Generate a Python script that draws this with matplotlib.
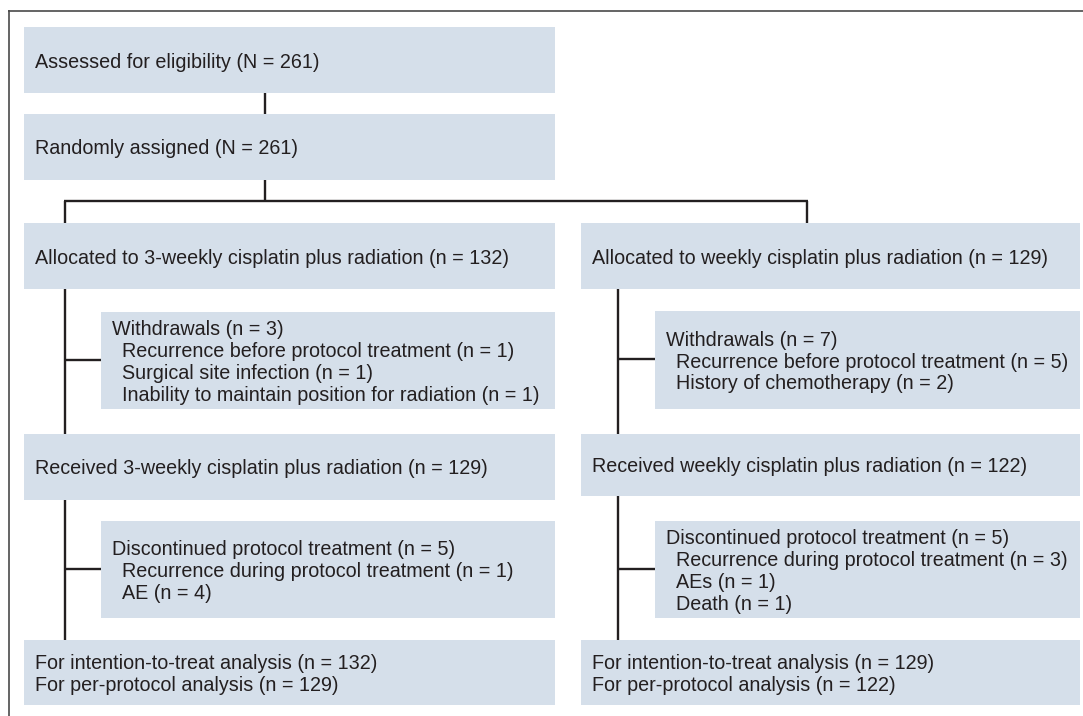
import matplotlib
matplotlib.use("Agg")
import matplotlib.pyplot as plt
from matplotlib.patches import Rectangle

# ---------------- data (texts / counts) ----------------
assessed_text = ["Assessed for eligibility (N = 261)"]
randomized_text = ["Randomly assigned (N = 261)"]
alloc_3w = ["Allocated to 3-weekly cisplatin plus radiation (n = 132)"]
alloc_w = ["Allocated to weekly cisplatin plus radiation (n = 129)"]
withdraw_3w = ["Withdrawals (n = 3)",
               "Recurrence before protocol treatment (n = 1)",
               "Surgical site infection (n = 1)",
               "Inability to maintain position for radiation (n = 1)"]
withdraw_w = ["Withdrawals (n = 7)",
              "Recurrence before protocol treatment (n = 5)",
              "History of chemotherapy (n = 2)"]
received_3w = ["Received 3-weekly cisplatin plus radiation (n = 129)"]
received_w = ["Received weekly cisplatin plus radiation (n = 122)"]
discont_3w = ["Discontinued protocol treatment (n = 5)",
              "Recurrence during protocol treatment (n = 1)",
              "AE (n = 4)"]
discont_w = ["Discontinued protocol treatment (n = 5)",
             "Recurrence during protocol treatment (n = 3)",
             "AEs (n = 1)",
             "Death (n = 1)"]
analysis_3w = ["For intention-to-treat analysis (n = 132)",
               "For per-protocol analysis (n = 129)"]
analysis_w = ["For intention-to-treat analysis (n = 129)",
              "For per-protocol analysis (n = 122)"]

# ---------------- styles ----------------
W, H = 1083, 716
BOX = "#d5dfea"
TXT = "#231f20"
LINE = "#231f20"
FS = 14.2
FONT = ["Liberation Sans", "DejaVu Sans"]
LSP = 21.8   # px between lines
PAD = 11
INDENT = 10

fig = plt.figure(figsize=(W / 100, H / 100), dpi=100)
ax = fig.add_axes([0, 0, 1, 1])
ax.set_xlim(0, W)
ax.set_ylim(H, 0)
ax.axis("off")

def box(x0, x1, y0, y1, lines, sub_indent=False):
    ax.add_patch(Rectangle((x0, y0), x1 - x0, y1 - y0, facecolor=BOX,
                           edgecolor="none", zorder=1))
    n = len(lines)
    yc = (y0 + y1) / 2
    for i, t in enumerate(lines):
        y = yc + (i - (n - 1) / 2) * LSP
        dx = INDENT if (sub_indent and i > 0) else 0
        ax.text(x0 + PAD + dx, y, t, fontsize=FS, family=FONT, color=TXT,
                ha="left", va="center_baseline", zorder=3)

def seg(xs, ys, lw=1.7, color=LINE):
    ax.plot(xs, ys, color=color, lw=lw, solid_capstyle="butt", zorder=2)

# outer frame (top + left)
seg([8, W], [10.5, 10.5], lw=1.2, color="#4a4a4a")
seg([8.5, 8.5], [10, H], lw=1.2, color="#4a4a4a")

LX0, LX1 = 24, 555
RX0, RX1 = 581, 1080
LSUB, RSUB = 101, 655
LV, RV = 65, 618

box(LX0, LX1, 27, 93, assessed_text)
box(LX0, LX1, 114, 180, randomized_text)
seg([265, 265], [93, 114])
seg([265, 265], [180, 201])
seg([LV - 0.8, 807.8], [201, 201])
seg([LV, LV], [201, 223])
seg([807, 807], [201, 223])

box(LX0, LX1, 223, 289, alloc_3w)
box(RX0, RX1, 223, 289, alloc_w)

box(LSUB, LX1, 312, 409, withdraw_3w, sub_indent=True)
box(RSUB, RX1, 311, 409, withdraw_w, sub_indent=True)

box(LX0, LX1, 434, 500, received_3w)
box(RX0, RX1, 434, 496, received_w)

box(LSUB, LX1, 521, 618, discont_3w, sub_indent=True)
box(RSUB, RX1, 521, 618, discont_w, sub_indent=True)

box(LX0, LX1, 640, 705, analysis_3w)
box(RX0, RX1, 640, 705, analysis_w)

# left column connectors
seg([LV, LV], [289, 434])
seg([LV, LSUB], [360, 360])
seg([LV, LV], [500, 640])
seg([LV, LSUB], [569, 569])
# right column connectors
seg([RV, RV], [289, 434])
seg([RV, RSUB], [359, 359])
seg([RV, RV], [496, 640])
seg([RV, RSUB], [569, 569])

fig.savefig("out.png", dpi=100, facecolor="white")
